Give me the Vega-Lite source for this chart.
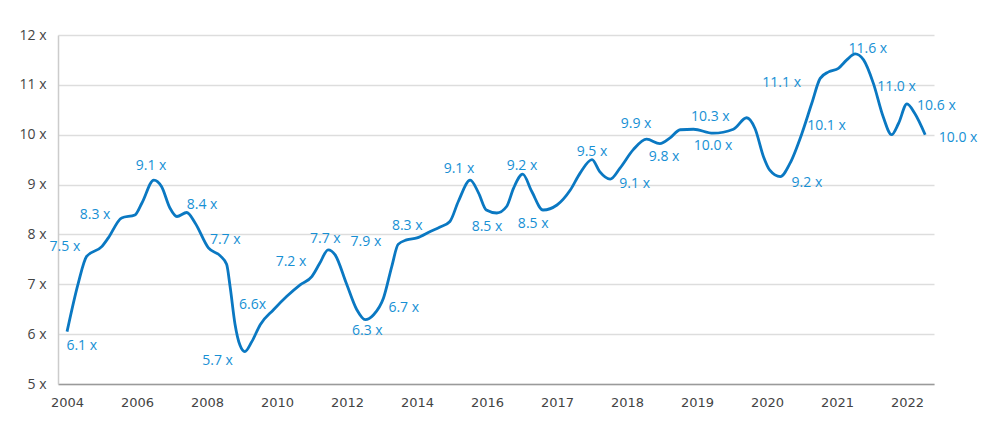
{
  "$schema": "https://vega.github.io/schema/vega-lite/v6.json",
  "width": 876,
  "height": 349,
  "autosize": {"type": "none"},
  "padding": {"left": 58, "top": 35, "right": 66, "bottom": 48},
  "background": "white",
  "config": {"view": {"stroke": null}, "font": "Open Sans"},
  "datasets": {
    "series": [
      {"t": 0, "v": 6.05}, {"t": 0.16, "v": 7.02}, {"t": 0.28, "v": 7.56}, {"t": 0.5, "v": 7.76},
      {"t": 0.59, "v": 7.93}, {"t": 0.78, "v": 8.33}, {"t": 0.97, "v": 8.39}, {"t": 1.07, "v": 8.63},
      {"t": 1.24, "v": 9.09}, {"t": 1.35, "v": 8.96}, {"t": 1.47, "v": 8.53}, {"t": 1.57, "v": 8.36},
      {"t": 1.71, "v": 8.44}, {"t": 1.83, "v": 8.23}, {"t": 2.02, "v": 7.73}, {"t": 2.19, "v": 7.57},
      {"t": 2.28, "v": 7.4}, {"t": 2.33, "v": 6.95}, {"t": 2.4, "v": 6.2}, {"t": 2.47, "v": 5.78},
      {"t": 2.54, "v": 5.65}, {"t": 2.64, "v": 5.85}, {"t": 2.76, "v": 6.19}, {"t": 2.95, "v": 6.49},
      {"t": 3.14, "v": 6.76}, {"t": 3.33, "v": 6.99}, {"t": 3.5, "v": 7.16}, {"t": 3.61, "v": 7.42},
      {"t": 3.73, "v": 7.69}, {"t": 3.83, "v": 7.59}, {"t": 3.99, "v": 7.02}, {"t": 4.14, "v": 6.49},
      {"t": 4.26, "v": 6.29}, {"t": 4.38, "v": 6.39}, {"t": 4.52, "v": 6.72}, {"t": 4.64, "v": 7.36},
      {"t": 4.73, "v": 7.8}, {"t": 4.85, "v": 7.89}, {"t": 5.0, "v": 7.93}, {"t": 5.19, "v": 8.06},
      {"t": 5.33, "v": 8.15}, {"t": 5.47, "v": 8.26}, {"t": 5.59, "v": 8.66}, {"t": 5.76, "v": 9.09},
      {"t": 5.88, "v": 8.83}, {"t": 5.99, "v": 8.49}, {"t": 6.14, "v": 8.43}, {"t": 6.28, "v": 8.56},
      {"t": 6.38, "v": 8.93}, {"t": 6.51, "v": 9.21}, {"t": 6.64, "v": 8.86}, {"t": 6.8, "v": 8.49},
      {"t": 7.0, "v": 8.59}, {"t": 7.19, "v": 8.89}, {"t": 7.33, "v": 9.23}, {"t": 7.5, "v": 9.5},
      {"t": 7.61, "v": 9.26}, {"t": 7.76, "v": 9.11}, {"t": 7.9, "v": 9.33}, {"t": 8.09, "v": 9.7},
      {"t": 8.28, "v": 9.91}, {"t": 8.47, "v": 9.82}, {"t": 8.61, "v": 9.93}, {"t": 8.76, "v": 10.1},
      {"t": 8.95, "v": 10.11}, {"t": 9.23, "v": 10.03}, {"t": 9.52, "v": 10.11}, {"t": 9.71, "v": 10.34},
      {"t": 9.83, "v": 10.12}, {"t": 9.95, "v": 9.56}, {"t": 10.04, "v": 9.29}, {"t": 10.19, "v": 9.16},
      {"t": 10.33, "v": 9.43}, {"t": 10.5, "v": 10.03}, {"t": 10.64, "v": 10.63}, {"t": 10.76, "v": 11.13},
      {"t": 10.88, "v": 11.26}, {"t": 11.02, "v": 11.33}, {"t": 11.14, "v": 11.5}, {"t": 11.26, "v": 11.62},
      {"t": 11.38, "v": 11.5}, {"t": 11.52, "v": 11.03}, {"t": 11.66, "v": 10.36}, {"t": 11.78, "v": 10.0},
      {"t": 11.88, "v": 10.23}, {"t": 12.0, "v": 10.62}, {"t": 12.11, "v": 10.43}, {"t": 12.26, "v": 10.0}
    ],
    "labels": [
      {"t": 0.21, "v": 5.77, "label": "6.1 x"},
      {"t": -0.03, "v": 7.75, "label": "7.5 x"},
      {"t": 0.4, "v": 8.39, "label": "8.3 x"},
      {"t": 1.2, "v": 9.38, "label": "9.1 x"},
      {"t": 1.93, "v": 8.59, "label": "8.4 x"},
      {"t": 2.26, "v": 7.89, "label": "7.7 x"},
      {"t": 2.65, "v": 6.59, "label": "6.6x"},
      {"t": 2.15, "v": 5.47, "label": "5.7 x"},
      {"t": 3.2, "v": 7.45, "label": "7.2 x"},
      {"t": 3.69, "v": 7.91, "label": "7.7 x"},
      {"t": 4.27, "v": 7.84, "label": "7.9 x"},
      {"t": 4.29, "v": 6.07, "label": "6.3 x"},
      {"t": 4.81, "v": 6.52, "label": "6.7 x"},
      {"t": 4.86, "v": 8.17, "label": "8.3 x"},
      {"t": 5.6, "v": 9.31, "label": "9.1 x"},
      {"t": 6.0, "v": 8.14, "label": "8.5 x"},
      {"t": 6.5, "v": 9.38, "label": "9.2 x"},
      {"t": 6.66, "v": 8.21, "label": "8.5 x"},
      {"t": 7.5, "v": 9.66, "label": "9.5 x"},
      {"t": 8.11, "v": 9.01, "label": "9.1 x"},
      {"t": 8.13, "v": 10.22, "label": "9.9 x"},
      {"t": 8.53, "v": 9.56, "label": "9.8 x"},
      {"t": 9.19, "v": 10.36, "label": "10.3 x"},
      {"t": 9.23, "v": 9.78, "label": "10.0 x"},
      {"t": 10.21, "v": 11.03, "label": "11.1 x"},
      {"t": 10.85, "v": 10.18, "label": "10.1 x"},
      {"t": 10.57, "v": 9.03, "label": "9.2 x"},
      {"t": 11.44, "v": 11.72, "label": "11.6 x"},
      {"t": 11.85, "v": 10.96, "label": "11.0 x"},
      {"t": 12.42, "v": 10.58, "label": "10.6 x"},
      {"t": 12.73, "v": 9.93, "label": "10.0 x"}
    ]
  },
  "encoding": {
    "x": {
      "field": "t",
      "type": "quantitative",
      "scale": {"domain": [-0.129, 12.386], "nice": false, "zero": false},
      "axis": {
        "title": null,
        "values": [0, 1, 2, 3, 4, 5, 6, 7, 8, 9, 10, 11, 12],
        "labelExpr": "['2004','2006','2008','2010','2012','2014','2016','2017','2018','2019','2020','2021','2022'][datum.value]",
        "grid": false,
        "ticks": false,
        "domainColor": "#9a9a9a",
        "domainWidth": 1.5,
        "labelColor": "#444444",
        "labelFontSize": 13,
        "labelPadding": 12,
        "labelFont": "DejaVu Sans"
      }
    },
    "y": {
      "field": "v",
      "type": "quantitative",
      "scale": {"domain": [5, 12], "nice": false, "zero": false},
      "axis": {
        "title": null,
        "values": [5, 6, 7, 8, 9, 10, 11, 12],
        "labelExpr": "datum.value + ' x'",
        "grid": true,
        "gridColor": "#dddddd",
        "gridWidth": 1.5,
        "ticks": false,
        "domainColor": "#cccccc",
        "domainWidth": 1.5,
        "labelColor": "#444444",
        "labelFontSize": 14,
        "labelPadding": 12
      }
    }
  },
  "layer": [
    {
      "data": {"name": "series"},
      "mark": {"type": "line", "interpolate": "monotone", "color": "#0a78c2", "strokeWidth": 2.8},
      "encoding": {}
    },
    {
      "data": {"name": "labels"},
      "mark": {"type": "text", "align": "center", "baseline": "middle", "fontSize": 14, "color": "#1790d4", "clip": false},
      "encoding": {"text": {"field": "label"}}
    }
  ]
}
